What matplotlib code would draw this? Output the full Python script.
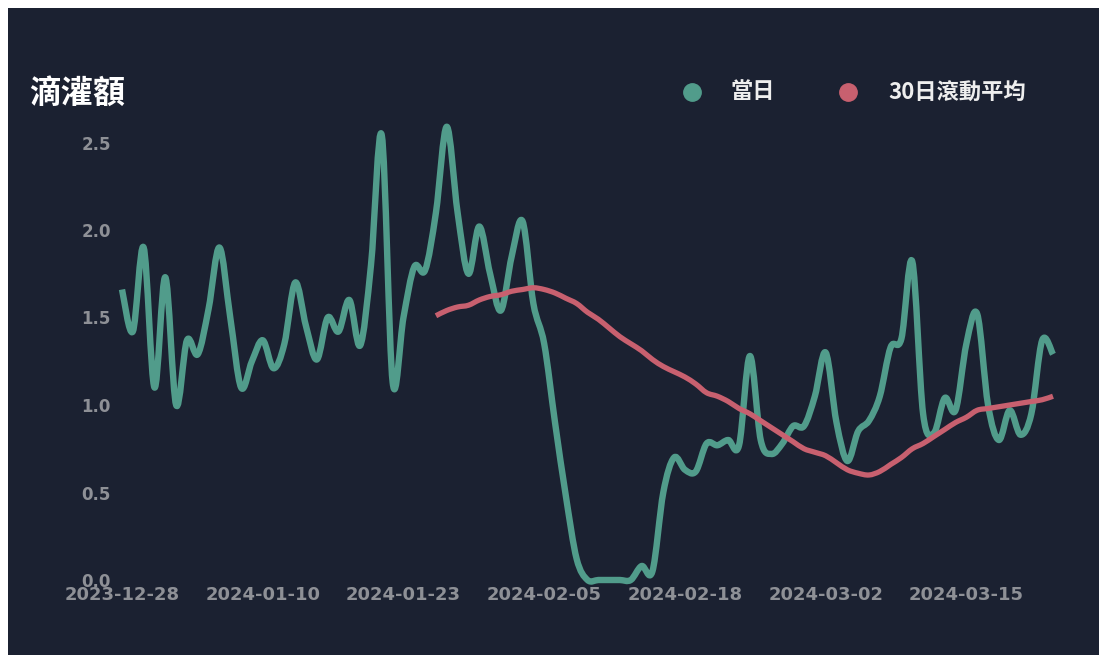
import matplotlib
matplotlib.use("Agg")
import matplotlib.pyplot as plt
import matplotlib.dates as mdates
from matplotlib.lines import Line2D
from matplotlib.patches import Rectangle, PathPatch
from matplotlib.path import Path
import numpy as np
import pandas as pd

# ---------------- data ----------------
start_date = "2023-12-28"
daily_values = [
    1.66, 1.42, 1.90, 1.10, 1.73, 1.00, 1.37, 1.29, 1.55, 1.90,
    1.50, 1.10, 1.25, 1.37, 1.21, 1.35, 1.70, 1.45, 1.26, 1.50,
    1.42, 1.60, 1.34, 1.80, 2.54, 1.13, 1.50, 1.79, 1.77, 2.10,
    2.59, 2.10, 1.75, 2.02, 1.75, 1.54, 1.85, 2.05, 1.58, 1.35,
    0.90, 0.48, 0.12, 0.00, 0.00, 0.00, 0.00, 0.00, 0.08, 0.05,
    0.50, 0.70, 0.63, 0.62, 0.78, 0.77, 0.80, 0.77, 1.28, 0.80,
    0.72, 0.78, 0.88, 0.88, 1.05, 1.30, 0.90, 0.68, 0.85, 0.91,
    1.05, 1.33, 1.38, 1.82, 0.95, 0.84, 1.04, 0.97, 1.35, 1.52,
    1.00, 0.80, 0.97, 0.83, 0.95, 1.37, 1.29,
]
rolling_start_index = 29
rolling_values = [
    1.51, 1.54, 1.56, 1.57, 1.60, 1.62, 1.63, 1.65, 1.66, 1.67,
    1.66, 1.64, 1.61, 1.58, 1.53, 1.49, 1.44, 1.39, 1.35, 1.31,
    1.26, 1.22, 1.19, 1.16, 1.12, 1.07, 1.05, 1.02, 0.98, 0.95,
    0.91, 0.87, 0.83, 0.79, 0.75, 0.73, 0.71, 0.67, 0.63, 0.61,
    0.60, 0.62, 0.66, 0.70, 0.75, 0.78, 0.82, 0.86, 0.90, 0.93,
    0.97, 0.98, 0.99, 1.00, 1.01, 1.02, 1.03, 1.05,
]
x_tick_labels = ["2023-12-28", "2024-01-10", "2024-01-23", "2024-02-05",
                 "2024-02-18", "2024-03-02", "2024-03-15"]
y_ticks = [0.0, 0.5, 1.0, 1.5, 2.0, 2.5]
title_text = "滴灌額"
legend_labels = ["當日", "30日滾動平均"]

# ---------------- style ----------------
BG = "#1b2131"
GREEN = "#519c8b"
RED = "#c8606f"
TICK = "#8e9096"
W, H = 1107, 663

dates = pd.date_range(start_date, periods=len(daily_values), freq="D")
roll_dates = dates[rolling_start_index:rolling_start_index + len(rolling_values)]


def spline_path(xd, yd):
    """Smooth (spline-shaped) line through the given points, as a Bezier path."""
    x = np.asarray(mdates.date2num(xd), float)
    y = np.asarray(yd, float)
    n = len(x)
    verts = [(x[0], y[0])]
    codes = [Path.MOVETO]
    for i in range(n - 1):
        x0, y0 = (x[i - 1], y[i - 1]) if i > 0 else (x[i], y[i])
        x3, y3 = (x[i + 2], y[i + 2]) if i + 2 < n else (x[i + 1], y[i + 1])
        c1 = (x[i] + (x[i + 1] - x0) / 6, y[i] + (y[i + 1] - y0) / 6)
        c2 = (x[i + 1] - (x3 - x[i]) / 6, y[i + 1] - (y3 - y[i]) / 6)
        verts += [c1, c2, (x[i + 1], y[i + 1])]
        codes += [Path.CURVE4] * 3
    return Path(verts, codes)


fig = plt.figure(figsize=(W / 100, H / 100), dpi=100, facecolor="white")
fig.add_artist(Rectangle((8 / W, 8 / H), (1099 - 8) / W, (655 - 8) / H,
                         transform=fig.transFigure, facecolor=BG,
                         edgecolor="none", zorder=0))

ax = fig.add_axes([122 / W, (H - 580) / H, (1053 - 122) / W, (580 - 121.5) / H])
ax.set_facecolor("none")
for s in ax.spines.values():
    s.set_visible(False)

ax.add_patch(PathPatch(spline_path(dates, daily_values), facecolor="none",
                       edgecolor=GREEN, lw=4.6, joinstyle="round",
                       capstyle="butt", clip_on=False, zorder=3))
ax.add_patch(PathPatch(spline_path(roll_dates, rolling_values), facecolor="none",
                       edgecolor=RED, lw=3.8, joinstyle="round",
                       capstyle="butt", clip_on=False, zorder=4))

ax.set_xlim(dates[0], dates[-1])
ax.set_ylim(0, 2.62)
ax.set_yticks(y_ticks)
ax.set_yticklabels([f"{v:.1f}" for v in y_ticks])
ax.set_xticks(pd.to_datetime(x_tick_labels))
ax.set_xticklabels(x_tick_labels)
ax.tick_params(axis="both", length=0, colors=TICK)
ax.tick_params(axis="y", pad=8, labelsize=12)
ax.tick_params(axis="x", pad=4, labelsize=13)
for lab in ax.get_xticklabels() + ax.get_yticklabels():
    lab.set_fontweight("bold")
    lab.set_family(["DejaVu Sans"])
ax.grid(False)

cjk = ["Noto Sans CJK TC", "DejaVu Sans"]
fig.text(29 / W, 1 - 94 / H, title_text, color="white", fontsize=23,
         fontweight="bold", family=cjk, ha="left", va="center")

# legend (manual)
for mx, tx, col, lab in [(692, 731, GREEN, legend_labels[0]),
                         (848, 888, RED, legend_labels[1])]:
    fig.add_artist(Line2D([mx / W], [1 - 92 / H], marker="o", markersize=12.5,
                          color=col, lw=0, transform=fig.transFigure))
    fig.text(tx / W, 1 - 92 / H, lab, color="#eeeeee", fontsize=16,
             fontweight="bold", family=cjk, ha="left", va="center")

fig.savefig("out.png", dpi=100, facecolor="white")
